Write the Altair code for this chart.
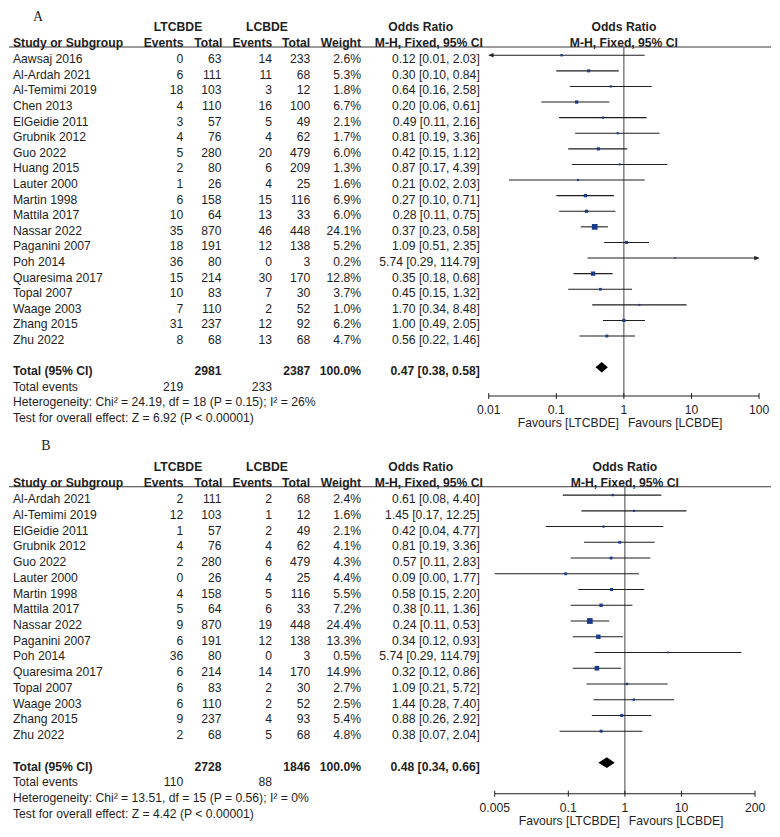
import altair as alt
import pandas as pd

# ---------------- Panel A data ----------------
A_study = ["Aawsaj 2016", "Al-Ardah 2021", "Al-Temimi 2019", "Chen 2013", "ElGeidie 2011",
           "Grubnik 2012", "Guo 2022", "Huang 2015", "Lauter 2000", "Martin 1998",
           "Mattila 2017", "Nassar 2022", "Paganini 2007", "Poh 2014", "Quaresima 2017",
           "Topal 2007", "Waage 2003", "Zhang 2015", "Zhu 2022"]
A_ev1 = [0, 6, 18, 4, 3, 4, 5, 2, 1, 6, 10, 35, 18, 36, 15, 10, 7, 31, 8]
A_n1 = [63, 111, 103, 110, 57, 76, 280, 80, 26, 158, 64, 870, 191, 80, 214, 83, 110, 237, 68]
A_ev2 = [14, 11, 3, 16, 5, 4, 20, 6, 4, 15, 13, 46, 12, 0, 30, 7, 2, 12, 13]
A_n2 = [233, 68, 12, 100, 49, 62, 479, 209, 25, 116, 33, 448, 138, 3, 170, 30, 52, 92, 68]
A_w = [2.6, 5.3, 1.8, 6.7, 2.1, 1.7, 6.0, 1.3, 1.6, 6.9, 6.0, 24.1, 5.2, 0.2, 12.8, 3.7, 1.0, 6.2, 4.7]
A_or = [0.12, 0.30, 0.64, 0.20, 0.49, 0.81, 0.42, 0.87, 0.21, 0.27, 0.28, 0.37, 1.09, 5.74, 0.35, 0.45, 1.70, 1.00, 0.56]
A_lo = [0.007, 0.10, 0.16, 0.06, 0.11, 0.19, 0.15, 0.17, 0.02, 0.10, 0.11, 0.23, 0.51, 0.29, 0.18, 0.15, 0.34, 0.49, 0.22]
A_hi = [2.03, 0.84, 2.58, 0.61, 2.16, 3.36, 1.12, 4.39, 2.03, 0.71, 0.75, 0.58, 2.35, 114.79, 0.68, 1.32, 8.48, 2.05, 1.46]
A_arrow_left = ["Aawsaj 2016"]
A_arrow_right = ["Poh 2014"]
A_total = {"n1": 2981, "n2": 2387, "or": 0.47, "lo": 0.38, "hi": 0.58, "ev1": 219, "ev2": 233}
A_het = "Heterogeneity: Chi\u00b2 = 24.19, df = 18 (P = 0.15); I\u00b2 = 26%"
A_test = "Test for overall effect: Z = 6.92 (P < 0.00001)"
A_ticks = [0.01, 0.1, 1, 10, 100]
A_tick_labels = ["0.01", "0.1", "1", "10", "100"]

# ---------------- Panel B data ----------------
B_study = ["Al-Ardah 2021", "Al-Temimi 2019", "ElGeidie 2011", "Grubnik 2012", "Guo 2022",
           "Lauter 2000", "Martin 1998", "Mattila 2017", "Nassar 2022", "Paganini 2007",
           "Poh 2014", "Quaresima 2017", "Topal 2007", "Waage 2003", "Zhang 2015", "Zhu 2022"]
B_ev1 = [2, 12, 1, 4, 2, 0, 4, 5, 9, 6, 36, 6, 6, 6, 9, 2]
B_n1 = [111, 103, 57, 76, 280, 26, 158, 64, 870, 191, 80, 214, 83, 110, 237, 68]
B_ev2 = [2, 1, 2, 4, 6, 4, 5, 6, 19, 12, 0, 14, 2, 2, 4, 5]
B_n2 = [68, 12, 49, 62, 479, 25, 116, 33, 448, 138, 3, 170, 30, 52, 93, 68]
B_w = [2.4, 1.6, 2.1, 4.1, 4.3, 4.4, 5.5, 7.2, 24.4, 13.3, 0.5, 14.9, 2.7, 2.5, 5.4, 4.8]
B_or = [0.61, 1.45, 0.42, 0.81, 0.57, 0.09, 0.58, 0.38, 0.24, 0.34, 5.74, 0.32, 1.09, 1.44, 0.88, 0.38]
B_lo = [0.08, 0.17, 0.04, 0.19, 0.11, 0.00, 0.15, 0.11, 0.11, 0.12, 0.29, 0.12, 0.21, 0.28, 0.26, 0.07]
B_hi = [4.40, 12.25, 4.77, 3.36, 2.83, 1.77, 2.20, 1.36, 0.53, 0.93, 114.79, 0.86, 5.72, 7.40, 2.92, 2.04]
B_arrow_left = []
B_arrow_right = []
B_total = {"n1": 2728, "n2": 1846, "or": 0.48, "lo": 0.34, "hi": 0.66, "ev1": 110, "ev2": 88}
B_het = "Heterogeneity: Chi\u00b2 = 13.51, df = 15 (P = 0.56); I\u00b2 = 0%"
B_test = "Test for overall effect: Z = 4.42 (P < 0.00001)"
B_ticks = [0.005, 0.1, 1, 10, 200]
B_tick_labels = ["0.005", "0.1", "1", "10", "200"]

GROUP1 = "LTCBDE"
GROUP2 = "LCBDE"
FAV_L = "Favours [LTCBDE]"
FAV_R = "Favours [LCBDE]"

# ---------------- styling ----------------
FONT = "Liberation Sans"
SERIF = "Liberation Serif"
TXT = "#1e1e1e"
SQ = "#1b3a8c"
W = 764
FS = 12.2

COLX = {"study": (4, "left"), "e1": (174.7, "right"), "n1": (213, "right"),
        "e2": (263.7, "right"), "n2": (302, "right"), "w": (353, "right"), "ci": (472, "right")}


def ci_text(o, l, h):
    return f"{o:.2f} [{l:.2f}, {h:.2f}]"


def build_panel(label, study, ev1, n1, ev2, n2, w, orv, lo, hi, arrow_l, arrow_r,
                tot, het, test, ticks, tick_labels, dom, xr, H, y0, dy, label_row, label_x):
    n = len(study)
    yscale = alt.Scale(domain=[0, n + 4], range=[y0, y0 + (n + 4) * dy])
    xscale = alt.Scale(type="log", domain=dom, range=xr)
    Y = lambda f: alt.Y(f, type="quantitative", scale=yscale, axis=None)
    X = lambda f: alt.X(f, type="quantitative", scale=xscale, axis=None)

    H1, H2, HL = -2.06, -1.05, -0.53

    # --- table cells (text, row, x, align, bold)
    cells = []
    for i in range(n):
        vals = {"study": study[i], "e1": str(ev1[i]), "n1": str(n1[i]), "e2": str(ev2[i]),
                "n2": str(n2[i]), "w": f"{w[i]:.1f}%", "ci": ci_text(orv[i], lo[i], hi[i])}
        for k, v in vals.items():
            cells.append((v, i, COLX[k][0], COLX[k][1], False))
    tr = n + 1
    for k, v in {"study": "Total (95% CI)", "n1": str(tot["n1"]), "n2": str(tot["n2"]),
                 "w": "100.0%", "ci": ci_text(tot["or"], tot["lo"], tot["hi"])}.items():
        cells.append((v, tr, COLX[k][0], COLX[k][1], True))
    for k, v in {"study": "Total events", "e1": str(tot["ev1"]), "e2": str(tot["ev2"])}.items():
        cells.append((v, n + 2, COLX[k][0], COLX[k][1], False))
    cells.append((het, n + 3, 4, "left", False))
    cells.append((test, n + 4, 4, "left", False))
    # headers
    cells += [(GROUP1, H1, 169.5, "center", True), (GROUP2, H1, 258.7, "center", True),
              ("Odds Ratio", H1, 412.8, "center", True),
              ("Study or Subgroup", H2, 4, "left", True), ("Events", H2, 175, "right", True),
              ("Total", H2, 214, "right", True), ("Events", H2, 264, "right", True),
              ("Total", H2, 302, "right", True), ("Weight", H2, 353, "right", True),
              ("M-H, Fixed, 95% CI", H2, 421, "center", True)]
    cdf = pd.DataFrame(cells, columns=["text", "r", "x", "align", "bold"])

    layers = []
    # header line
    layers.append(alt.Chart(pd.DataFrame({"r": [HL]})).mark_rule(color="#3a3a3a", strokeWidth=1.2)
                  .encode(x=alt.value(0), x2=alt.value(W), y=Y("r")))
    # line of no effect
    layers.append(alt.Chart(pd.DataFrame({"v": [1.0], "r": [HL]})).mark_rule(color="#444444", strokeWidth=1)
                  .encode(x=X("v"), y=Y("r"), y2=alt.value(H)))

    for (x, align, bold), g in cdf.groupby(["x", "align", "bold"]):
        layers.append(alt.Chart(g[["text", "r"]]).mark_text(
            align=align, baseline="middle", font=FONT, fontSize=FS,
            fontWeight="bold" if bold else "normal", color=TXT, dy=4)
            .encode(x=alt.value(float(x)), y=Y("r"), text="text:N"))

    # panel label
    layers.append(alt.Chart(pd.DataFrame({"text": [label], "r": [label_row]})).mark_text(
        align="center", baseline="middle", font=SERIF, fontSize=14, color=TXT, dy=4)
        .encode(x=alt.value(label_x), y=Y("r"), text="text:N"))

    # forest header
    layers.append(alt.Chart(pd.DataFrame({"v": [1.0, 1.0], "r": [H1, H2],
                                          "text": ["Odds Ratio", "M-H, Fixed, 95% CI"]}))
                  .mark_text(align="center", baseline="middle", font=FONT, fontSize=FS,
                             fontWeight="bold", color=TXT, dy=4)
                  .encode(x=X("v"), y=Y("r"), text="text:N"))

    # study data
    fd = pd.DataFrame({"study": study, "r": list(range(n)), "orv": orv, "w": w,
                       "lo_c": [max(v, dom[0]) for v in lo], "hi_c": [min(v, dom[1]) for v in hi]})
    layers.append(alt.Chart(fd).mark_rule(color="#1e1e1e", strokeWidth=1.1)
                  .encode(x=X("lo_c"), x2="hi_c:Q", y=Y("r")))
    layers.append(alt.Chart(fd).mark_square(filled=True, color=SQ, opacity=1)
                  .encode(x=X("orv"), y=Y("r"),
                          size=alt.Size("w:Q", scale=alt.Scale(domain=[0, 25], range=[2.5, 34]), legend=None)))

    # arrows for clipped intervals
    al = fd[fd["study"].isin(arrow_l)].assign(v=dom[0])
    ar = fd[fd["study"].isin(arrow_r)].assign(v=dom[1])
    if len(al):
        layers.append(alt.Chart(al).mark_point(shape="M0,0L1,-0.5L1,0.5Z", filled=True, size=90,
                                               color="#1e1e1e", opacity=1)
                      .encode(x=X("v"), y=Y("r")))
    if len(ar):
        layers.append(alt.Chart(ar).mark_point(shape="M0,0L-1,-0.5L-1,0.5Z", filled=True, size=90,
                                               color="#1e1e1e", opacity=1)
                      .encode(x=X("v"), y=Y("r")))

    # pooled diamond
    hh = 0.34
    dd = pd.DataFrame({"x": [tot["lo"], tot["or"], tot["hi"]],
                       "y": [tr, tr - hh, tr], "y2": [tr, tr + hh, tr]})
    layers.append(alt.Chart(dd).mark_area(color="black", opacity=1, interpolate="linear")
                  .encode(x=X("x"), y=Y("y"), y2="y2:Q"))

    # x axis drawn from the scale
    layers.append(alt.Chart(pd.DataFrame({"a": [dom[0]], "b": [dom[1]]})).mark_rule(color="#1e1e1e", strokeWidth=1.1)
                  .encode(x=X("a"), x2="b:Q", y=alt.value(H)))
    tdf = pd.DataFrame({"t": ticks, "lab": tick_labels})
    layers.append(alt.Chart(tdf).mark_rule(color="#1e1e1e")
                  .encode(x=X("t"), y=alt.value(H - 3), y2=alt.value(H + 3)))
    layers.append(alt.Chart(tdf).mark_text(font=FONT, fontSize=FS, color=TXT, baseline="middle")
                  .encode(x=X("t"), y=alt.value(H + 14), text="lab:N"))
    fav = pd.DataFrame({"v": [1.0]})
    layers.append(alt.Chart(fav).mark_text(font=FONT, fontSize=FS, color=TXT, baseline="middle",
                                           align="right", dx=-5, text=FAV_L)
                  .encode(x=X("v"), y=alt.value(H + 27)))
    layers.append(alt.Chart(fav).mark_text(font=FONT, fontSize=FS, color=TXT, baseline="middle",
                                           align="left", dx=4, text=FAV_R)
                  .encode(x=X("v"), y=alt.value(H + 27)))

    return alt.layer(*layers).properties(width=W, height=H)


pA = build_panel("A", A_study, A_ev1, A_n1, A_ev2, A_n2, A_w, A_or, A_lo, A_hi,
                 A_arrow_left, A_arrow_right, A_total, A_het, A_test, A_ticks, A_tick_labels,
                 dom=[0.01, 100], xr=[481, 752], H=386, y0=44.3, dy=15.64, label_row=-2.72, label_x=29)
pB = build_panel("B", B_study, B_ev1, B_n1, B_ev2, B_n2, B_w, B_or, B_lo, B_hi,
                 B_arrow_left, B_arrow_right, B_total, B_het, B_test, B_ticks, B_tick_labels,
                 dom=[0.005, 200], xr=[487, 748], H=362.7, y0=63.3, dy=15.78, label_row=-3.40, label_x=37)

chart = (alt.vconcat(pA, pB, spacing=36, bounds="flush")
         .properties(padding=0)
         .configure_view(stroke=None))

chart.save("out.html", embed_options={"renderer": "svg", "actions": False})
